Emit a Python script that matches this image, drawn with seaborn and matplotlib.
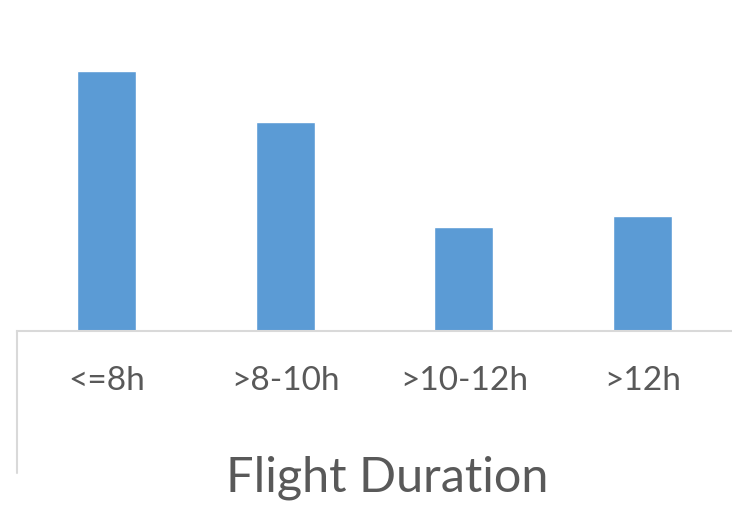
import matplotlib
matplotlib.use("Agg")
import matplotlib.pyplot as plt
from matplotlib.lines import Line2D
import seaborn as sns
import pandas as pd

categories = ["<=8h", ">8-10h", ">10-12h", ">12h"]
values = [25.0, 20.1, 10.0, 11.1]
x_title = "Flight Duration"

sns.set_theme(style="white")
plt.rcParams["font.family"] = ["Lato", "DejaVu Sans"]

df = pd.DataFrame({"duration": categories, "share": values})

fig = plt.figure(figsize=(7.32, 5.12), dpi=100)
ax = fig.add_axes([17 / 732, 1 - 331 / 512, 1 - 17 / 732, 331 / 512])

sns.barplot(data=df, x="duration", y="share", color="#5B9BD5",
            saturation=1, width=0.33, ax=ax)

ax.set_ylim(0, 25.0 * 331 / 260)
ax.set_xlim(-0.5, 3.5)
for side in ("top", "right", "left"):
    ax.spines[side].set_visible(False)
ax.spines["bottom"].set_color("#D9D9D9")
ax.spines["bottom"].set_linewidth(1.5)
ax.set_yticks([])
ax.set_ylabel("")
ax.set_xlabel("")
ax.tick_params(axis="x", length=0, pad=25, labelsize=24, labelcolor="#595959")

# left border of the category axis area
fig.add_artist(Line2D([16.5 / 732, 16.5 / 732], [1 - 331 / 512, 1 - 473 / 512],
                      color="#D9D9D9", linewidth=1.5, transform=fig.transFigure))

fig.text(387 / 732, 1 - 491 / 512, x_title, ha="center", va="baseline",
         fontsize=35, color="#595959")

fig.savefig("out.png", dpi=100)
